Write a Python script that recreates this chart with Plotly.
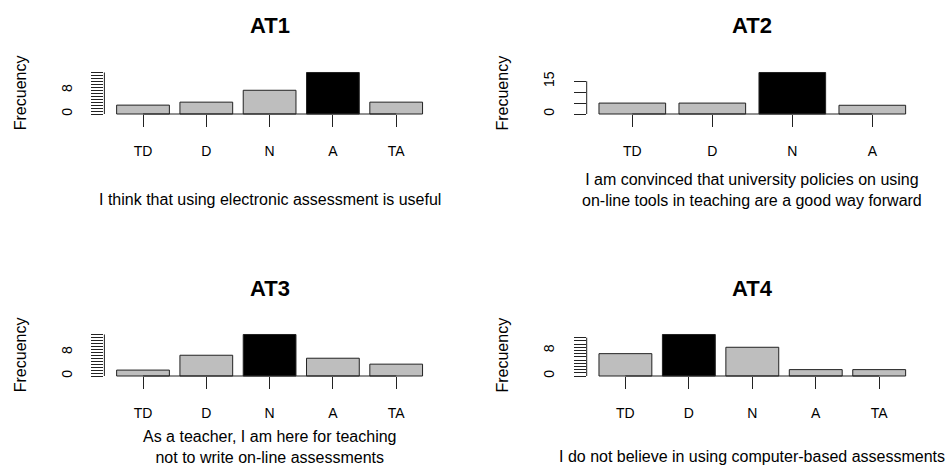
import plotly.graph_objects as go

# Likert response counts per attitude item
cats5 = ["TD", "D", "N", "A", "TA"]
cats4 = ["TD", "D", "N", "A"]

at1_counts = [3, 4, 8, 14, 4]
at2_counts = [5, 5, 19, 4]
at3_counts = [2, 7, 14, 6, 4]
at4_counts = [7, 13, 9, 2, 2]

titles = ["AT1", "AT2", "AT3", "AT4"]
subtitles = [
    "I think that using electronic assessment is useful",
    "I am convinced that university policies on using<br>on-line tools in teaching are a good way forward",
    "As a teacher, I am here for teaching<br>not to write on-line assessments",
    "I do not believe in using computer-based assessments",
]

# y-axis tick positions and labels (only some labels are printed)
at1_yticks = list(range(0, 15))
at2_yticks = [0, 5, 10, 15]
at3_yticks = list(range(0, 15))
at4_yticks = list(range(0, 13))
at1_ylabels = ["0", "", "", "", "", "", "", "", "8", "", "", "", "", "", ""]
at2_ylabels = ["0", "", "", "15"]
at3_ylabels = ["0", "", "", "", "", "", "", "", "8", "", "", "", "", "", ""]
at4_ylabels = ["0", "", "", "", "", "", "", "", "8", "", "", "", ""]

W, H = 951, 470
FONT = "Liberation Sans"
GRAY = "#bebebe"
INK = "#222222"


def px(x):
    return x / W


def py(y):
    return 1 - y / H


# plot regions in pixels: (left, right, top, bottom, baseline)
regions = [
    (104.4, 434.8, 70.4, 116.1, 114.0),
    (586.7, 917.9, 70.4, 116.1, 114.0),
    (104.4, 434.8, 332.4, 378.1, 376.0),
    (586.7, 917.9, 332.4, 378.1, 376.0),
]
title_y = [25, 25, 288, 288]
sub_y = [200, 190, 446.5, 456.5]

panels = [
    (cats5, at1_counts, at1_yticks, at1_ylabels),
    (cats4, at2_counts, at2_yticks, at2_ylabels),
    (cats5, at3_counts, at3_yticks, at3_ylabels),
    (cats5, at4_counts, at4_yticks, at4_ylabels),
]

fig = go.Figure()
annotations = []
shapes = []
gap = 0.2 / 1.2

for i, (cats, counts, yt, yl) in enumerate(panels):
    k = "" if i == 0 else str(i + 1)
    xa, ya = "x" + k, "y" + k
    l, r, t, b, base = regions[i]
    top = max(counts)
    colors = ["black" if v == top else GRAY for v in counts]
    fig.add_trace(go.Bar(
        x=cats, y=counts, xaxis=xa, yaxis=ya,
        marker=dict(color=colors, line=dict(color=INK, width=1)),
        showlegend=False, hoverinfo="x+y",
    ))
    n = len(cats)
    half = (1 - gap) / 2
    ext = 0.04 * (n - 1 + 2 * half)
    xrange = [-half - ext, n - 1 + half + ext]
    yrange = [-0.0504 * top, 1.0504 * top]

    fig.update_layout(**{
        "xaxis" + k: dict(
            domain=[px(l), px(r)], anchor="free", position=py(base),
            type="category", categoryorder="array", categoryarray=cats,
            range=xrange, showgrid=False, zeroline=False, showline=False,
            ticks="outside", ticklen=12, tickwidth=1, tickcolor=INK,
            ticklabelstandoff=12,
            tickfont=dict(family=FONT, size=14, color="black"),
            fixedrange=True,
        ),
        "yaxis" + k: dict(
            domain=[py(b), py(t)], anchor=xa, range=yrange,
            tickvals=yt, ticktext=yl, tickangle=-90,
            showgrid=False, zeroline=False, showline=False,
            ticks="outside", ticklen=12, tickwidth=1, tickcolor=INK,
            ticklabelstandoff=14,
            tickfont=dict(family=FONT, size=14, color="black"),
            fixedrange=True,
        ),
    })

    # axis lines span only the first to last tick
    shapes.append(dict(type="line", xref=xa, yref=ya,
                       x0=0, x1=n - 1, y0=0, y1=0,
                       line=dict(color=INK, width=1)))
    shapes.append(dict(type="line", xref=xa + " domain", yref=ya,
                       x0=0, x1=0, y0=yt[0], y1=yt[-1],
                       line=dict(color=INK, width=1)))

    cx = (l + r) / 2
    annotations.append(dict(
        text="<b>%s</b>" % titles[i], xref="paper", yref="paper",
        x=px(cx), y=py(title_y[i]), xanchor="center", yanchor="middle",
        showarrow=False, font=dict(family=FONT, size=22, color="black"),
    ))
    annotations.append(dict(
        text=subtitles[i], xref="paper", yref="paper",
        x=px(cx), y=py(sub_y[i]), xanchor="center", yanchor="middle",
        showarrow=False, font=dict(family=FONT, size=16, color="black"),
    ))
    annotations.append(dict(
        text="Frecuency", xref="paper", yref="paper", textangle=-90,
        x=px(l - 84.4), y=py((t + b) / 2), xanchor="center", yanchor="middle",
        showarrow=False, font=dict(family=FONT, size=16, color="black"),
    ))

fig.update_layout(
    width=W, height=H, margin=dict(l=0, r=0, t=0, b=0),
    paper_bgcolor="white", plot_bgcolor="white",
    bargap=gap, annotations=annotations, shapes=shapes,
    font=dict(family=FONT, color="black"),
)

fig.write_html("out.html")
